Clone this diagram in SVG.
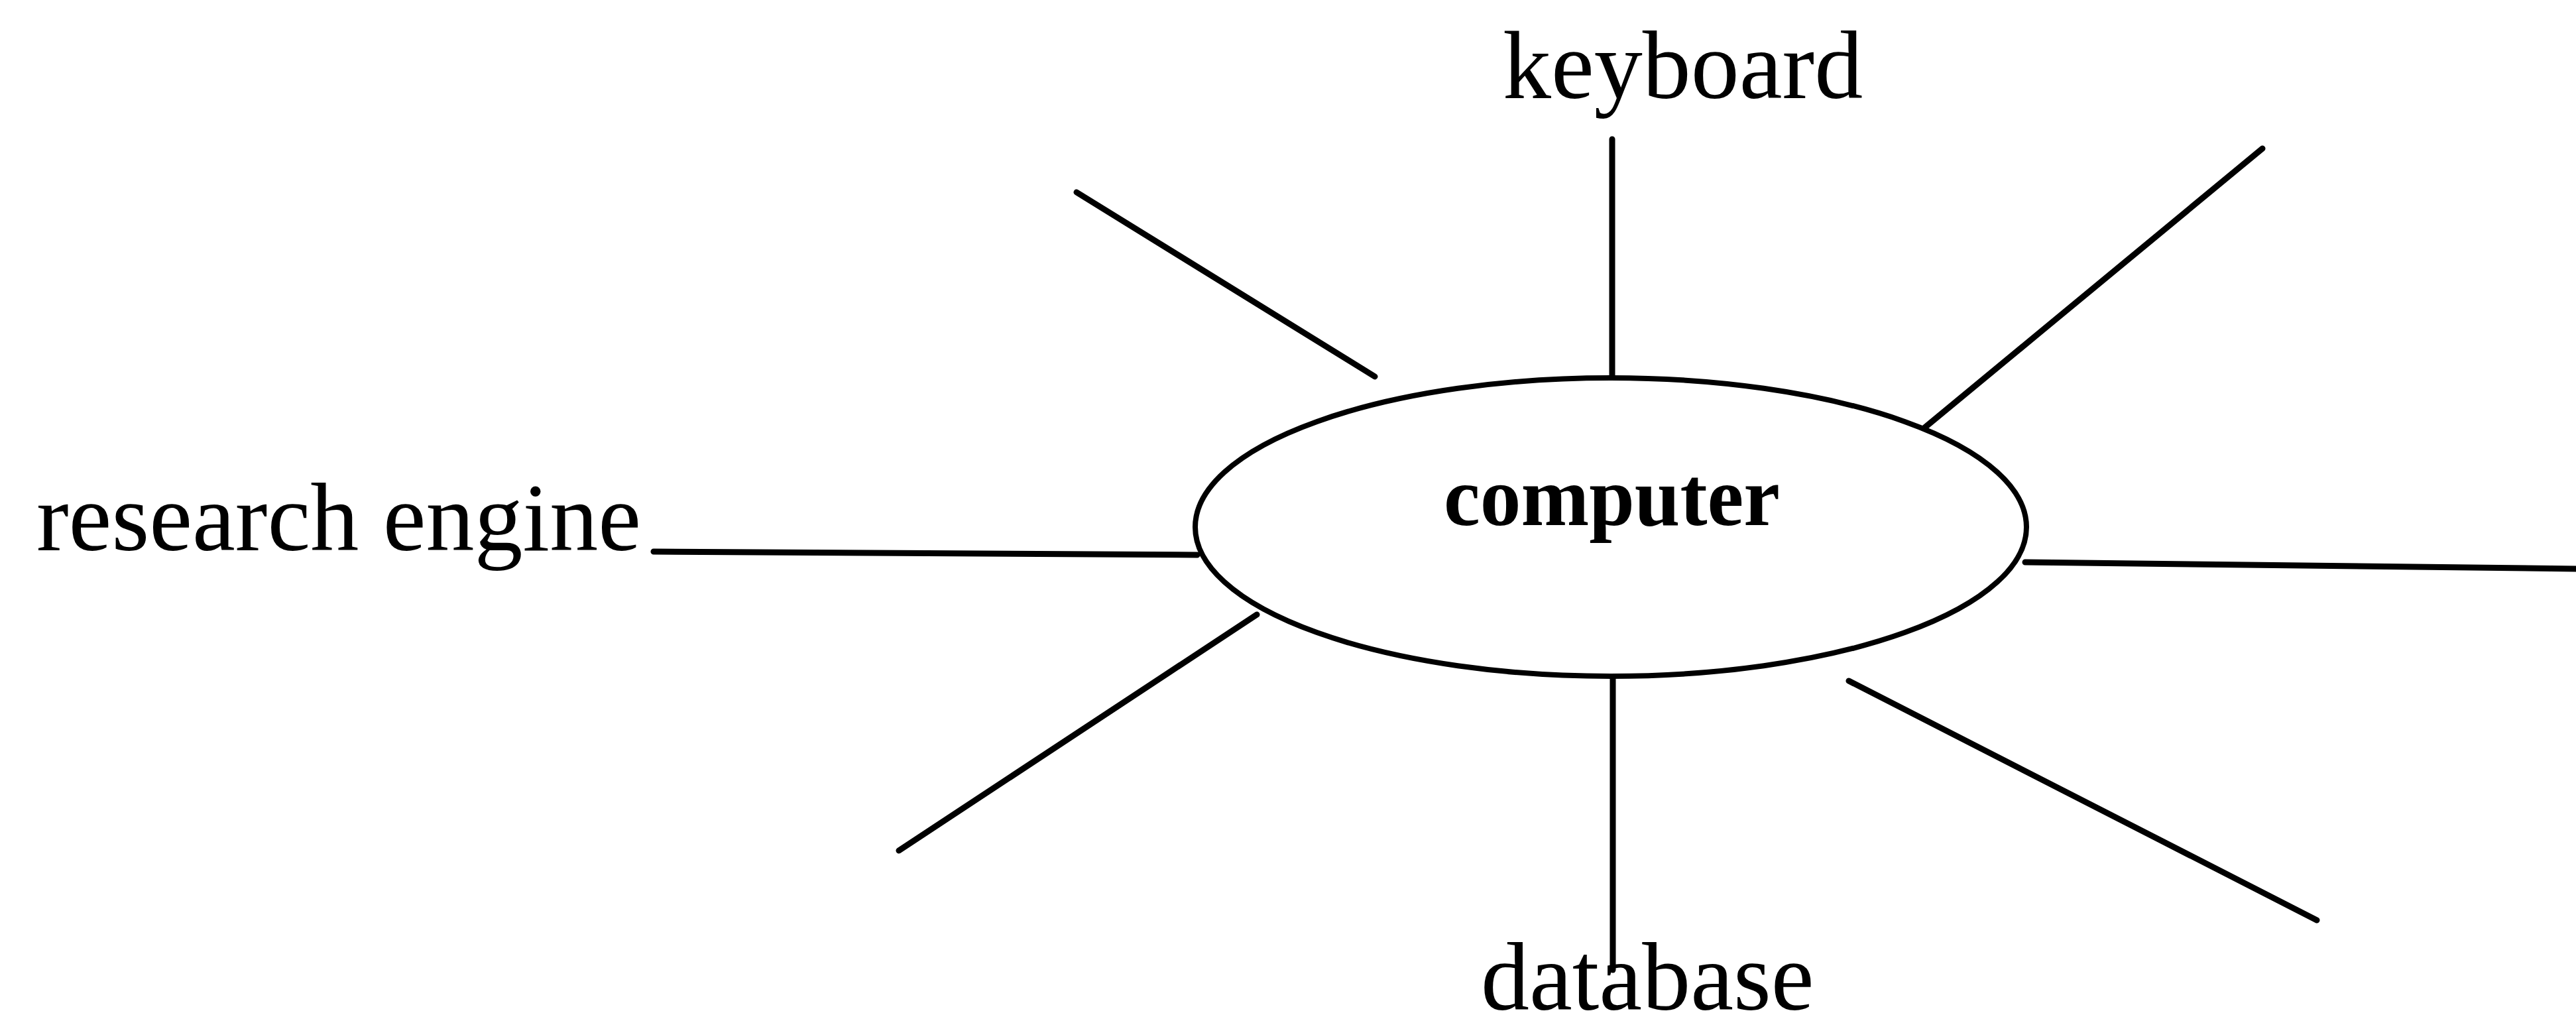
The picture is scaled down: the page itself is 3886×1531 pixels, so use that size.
<svg xmlns="http://www.w3.org/2000/svg" width="3886" height="1531" viewBox="0 0 3886 1531">
  <style>
    .bg { fill: #ffffff; }
    .link { stroke: #000000; stroke-width: 9; stroke-linecap: round; fill: none; }
    .hub { fill: #ffffff; stroke: #000000; stroke-width: 8; }
    .label { font-family: "Liberation Serif", "Times New Roman", serif; font-size: 146px; fill: #000000; }
    .hub-label { font-family: "Liberation Serif", "Times New Roman", serif; font-size: 128px; font-weight: bold; fill: #000000; }
  </style>
  <rect class="bg" x="0" y="0" width="3886" height="1531"/>

  <!-- spokes radiating from the central ellipse -->
  <g id="connectors">
    <line class="link" x1="2432" y1="210" x2="2432" y2="570"/>
    <line class="link" x1="1624" y1="290" x2="2074" y2="568"/>
    <line class="link" x1="3413" y1="224" x2="2878" y2="666"/>
    <line class="link" x1="986" y1="832" x2="1806" y2="837"/>
    <line class="link" x1="3055" y1="848" x2="3886" y2="858"/>
    <line class="link" x1="1896" y1="927" x2="1356" y2="1283"/>
    <line class="link" x1="2433" y1="1020" x2="2433" y2="1463"/>
    <line class="link" x1="2789" y1="1027" x2="3495" y2="1388"/>
  </g>

  <g id="computer">
    <ellipse class="hub" cx="2430" cy="795" rx="627" ry="225"/>
    <text class="hub-label" x="2178" y="792" textLength="507" lengthAdjust="spacingAndGlyphs">computer</text>
  </g>

  <g id="keyboard">
    <text class="label" x="2267" y="148">keyboard</text>
  </g>

  <g id="research-engine">
    <text class="label" x="55" y="830">research engine</text>
  </g>

  <g id="database">
    <text class="label" x="2234" y="1523">database</text>
  </g>
</svg>
